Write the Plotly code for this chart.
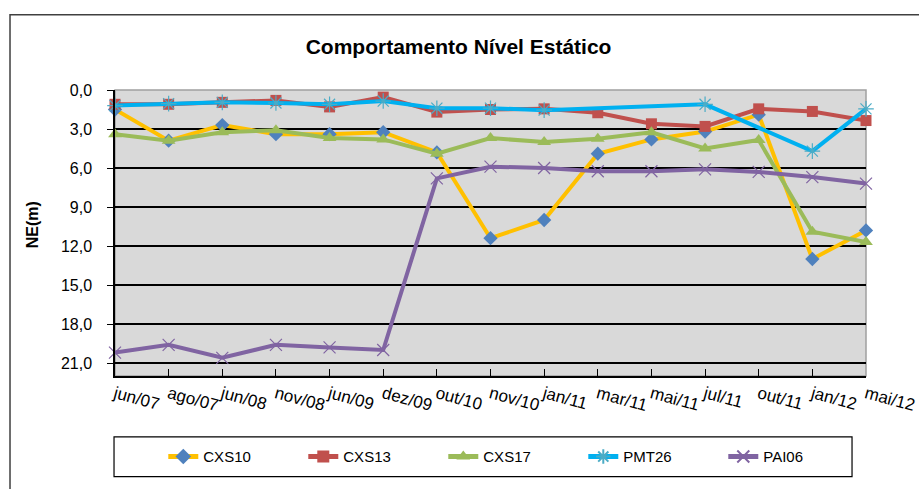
import plotly.graph_objects as go

categories = ["jun/07", "ago/07", "jun/08", "nov/08", "jun/09", "dez/09", "out/10",
              "nov/10", "jan/11", "mar/11", "mai/11", "jul/11", "out/11", "jan/12", "mai/12"]
cxs10 = [1.5, 3.9, 2.7, 3.4, 3.4, 3.25, 4.8, 11.4, 10.0, 4.9, 3.8, 3.2, 1.9, 13.0, 10.8]
cxs13 = [1.1, 1.1, 0.95, 0.8, 1.3, 0.55, 1.7, 1.5, 1.45, 1.75, 2.6, 2.8, 1.45, 1.65, 2.35]
cxs17 = [3.4, 3.9, 3.25, 3.1, 3.7, 3.8, 4.9, 3.7, 4.0, 3.75, 3.25, 4.5, 3.85, 10.9, 11.7]
pmt26 = [1.2, 1.05, 0.95, 1.0, 1.1, 0.85, 1.4, 1.4, 1.55, None, None, 1.1, None, 4.7, 1.45]
pai06 = [20.2, 19.6, 20.6, 19.6, 19.8, 20.0, 6.8, 5.9, 6.0, 6.25, 6.25, 6.1, 6.3, 6.7, 7.2]
y_ticks = [0, 3, 6, 9, 12, 15, 18, 21]

FONT = "Arial, Liberation Sans, sans-serif"

series = [
    ("CXS10", cxs10, "#FFC000", dict(symbol="diamond", size=11, color="#4F81BD")),
    ("CXS13", cxs13, "#C0504D", dict(symbol="square", size=11, color="#C0504D")),
    ("CXS17", cxs17, "#9BBB59", dict(symbol="triangle-up", size=12, color="#9BBB59")),
    ("PMT26", pmt26, "#00B0F0", dict(symbol="asterisk-open", size=13, color="#4BACC6",
                                     line=dict(width=1.2, color="#4BACC6"))),
    ("PAI06", pai06, "#8064A2", dict(symbol="x-thin-open", size=12, color="#8064A2",
                                     line=dict(width=1.2, color="#8064A2"))),
]

fig = go.Figure()
for name, vals, lc, mk in series:
    fig.add_trace(go.Scatter(
        x=categories, y=vals, name=name, mode="lines+markers",
        line=dict(color=lc, width=4), marker=mk,
        connectgaps=True, cliponaxis=False,
    ))

# frames
fig.add_shape(type="rect", xref="paper", yref="paper", x0=-0.1398, x1=1.2, y0=-0.6, y1=1.2627,
              line=dict(color="#404040", width=1.5), layer="below")
fig.add_shape(type="rect", xref="paper", yref="paper", x0=-0.0013, x1=0.9814, y0=-0.352, y1=-0.2128,
              line=dict(color="#000000", width=1.2), fillcolor="white", layer="below")
fig.add_shape(type="rect", xref="paper", yref="paper", x0=0, x1=1, y0=0, y1=1,
              line=dict(color="#A0A0A0", width=1.5), layer="between")

fig.add_annotation(text="<b>NE(m)</b>", xref="paper", yref="paper", x=-0.1105, y=0.527,
                   xanchor="center", yanchor="middle",
                   textangle=-90, showarrow=False, font=dict(family=FONT, size=16, color="black"))

fig.update_layout(
    width=919, height=489,
    margin=dict(l=115, r=53, t=90, b=113, autoexpand=False),
    paper_bgcolor="white", plot_bgcolor="#D9D9D9",
    separators=",.",
    font=dict(family=FONT, size=15, color="black"),
    title=dict(text="<b>Comportamento Nível Estático</b>", x=0.499, xanchor="center",
               y=1 - 47 / 489, yanchor="middle", font=dict(family=FONT, size=21, color="black")),
    showlegend=True,
    legend=dict(orientation="h", x=0.0643, xanchor="left", y=-0.2825, yanchor="middle",
                entrywidth=95, entrywidthmode="pixels", bgcolor="rgba(0,0,0,0)",
                borderwidth=0, font=dict(family=FONT, size=15, color="black"),
                itemsizing="constant"),
    xaxis=dict(type="category", range=[0, 14], showgrid=False, showline=True,
               linecolor="black", linewidth=1.5, ticks="inside", ticklen=7, tickcolor="black",
               tickwidth=1.2, tickangle=15, tickfont=dict(family=FONT, size=17), zeroline=False),
    yaxis=dict(range=[22, 0], tickvals=y_ticks, tickformat=".1f", showgrid=True,
               gridcolor="black", gridwidth=1.5, showline=True, linecolor="black", linewidth=1.5,
               ticks="outside", ticklen=6, tickcolor="black", tickwidth=1.2,
               ticklabelstandoff=12, tickfont=dict(family=FONT, size=16), zeroline=False),
)

fig.write_html("out.html", config={"displayModeBar": False},
               post_script="document.body.style.margin='0';document.body.style.padding='0';"
                           "document.body.style.overflow='hidden';")
